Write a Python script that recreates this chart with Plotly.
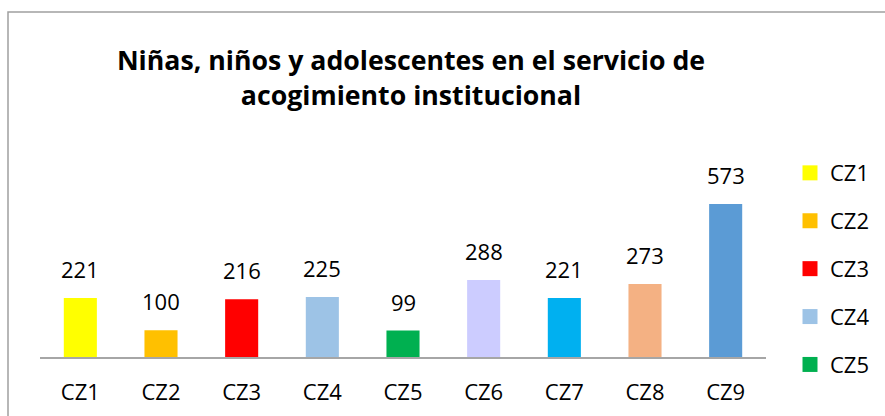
import plotly.graph_objects as go

categories = ["CZ1", "CZ2", "CZ3", "CZ4", "CZ5", "CZ6", "CZ7", "CZ8", "CZ9"]
values = [221, 100, 216, 225, 99, 288, 221, 273, 573]
colors = ["#FFFF00", "#FFC000", "#FF0000", "#9DC3E6", "#00B050",
          "#CCCCFF", "#00B0F0", "#F4B183", "#5B9BD5"]
legend_visible = 5  # only first five legend entries fit in the visible frame

W, H = 885, 416
L, R, T, B = 40, 119, 170, 58.5
pw, ph = W - L - R, H - T - B
FONT = "Open Sans"

def px2x(px):
    return (px - L) / pw

def py2y(py):
    return (H - B - py) / ph

fig = go.Figure()
fig.add_trace(go.Bar(
    x=categories, y=values, marker=dict(color=colors, line=dict(width=0)),
    width=0.41, showlegend=False, hoverinfo="x+y",
))
for i in range(legend_visible):
    fig.add_trace(go.Scatter(
        x=[None], y=[None], mode="markers", name=categories[i],
        marker=dict(symbol="square", size=15, color=colors[i]),
        legendgroup=categories[i], showlegend=True,
    ))

for c, v in zip(categories, values):
    fig.add_annotation(x=c, y=v, text=str(v), showarrow=False,
                       yanchor="middle", yshift=29,
                       font=dict(family=FONT, size=22, color="#000000"))

fig.add_shape(type="rect", xref="paper", yref="paper",
              x0=px2x(8), x1=px2x(1000), y0=py2y(600), y1=py2y(11.5),
              line=dict(color="#A0A0A0", width=1.5), fillcolor="rgba(0,0,0,0)",
              layer="below")

fig.update_layout(
    width=W, height=H,
    margin=dict(l=L, r=R, t=T, b=B, pad=0, autoexpand=False),
    paper_bgcolor="#FFFFFF", plot_bgcolor="#FFFFFF",
    font=dict(family=FONT, size=22, color="#000000"),
    title=dict(text="<b>Niñas, niños y adolescentes en el servicio de<br>acogimiento institucional</b>",
               x=411 / W, xanchor="center", xref="container",
               y=1 - 70 / H, yanchor="top", yref="container", automargin=False,
               font=dict(family=FONT, size=26.7, color="#000000")),
    xaxis=dict(showgrid=False, showline=True, linecolor="#A6A6A6", linewidth=1.5,
               ticks="", ticklabelstandoff=15, tickfont=dict(family=FONT, size=22),
               zeroline=False, automargin=False),
    yaxis=dict(range=[0, 700], visible=False, showgrid=False, zeroline=False,
               automargin=False),
    legend=dict(x=px2x(790), xanchor="left", y=py2y(152), yanchor="top",
                traceorder="grouped", tracegroupgap=16.3, maxheight=400,
                font=dict(family=FONT, size=22), bgcolor="rgba(0,0,0,0)",
                itemsizing="trace"),
    showlegend=True,
)

fig.write_html("out.html")
